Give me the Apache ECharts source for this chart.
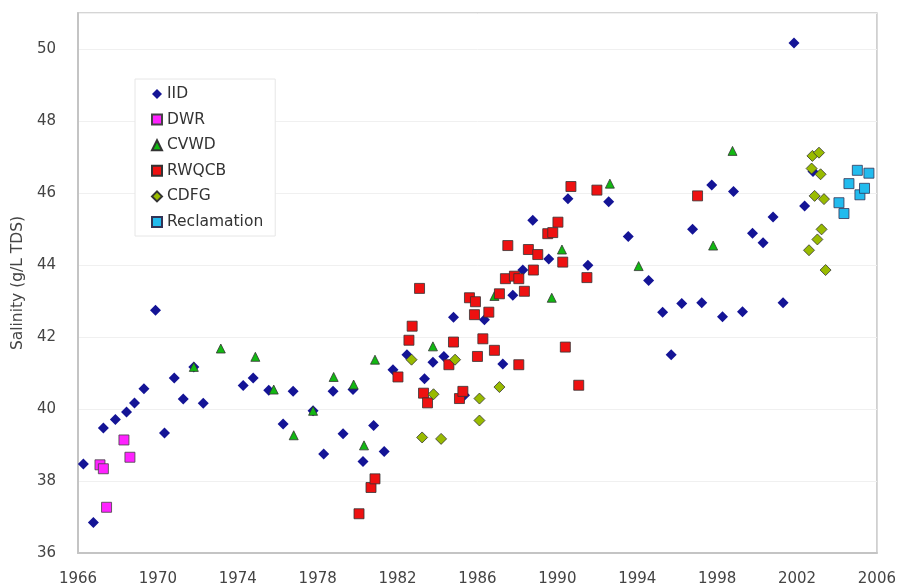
<!DOCTYPE html>
<html><head><meta charset="utf-8">
<script src="https://cdn.jsdelivr.net/npm/echarts@6/dist/echarts.min.js"></script>
<style>html,body{margin:0;padding:0;background:#fff}#c{width:899px;height:588px}</style>
</head><body><div id="c"></div>
<script>
const xTicks = [1966,1970,1974,1978,1982,1986,1990,1994,1998,2002,2006];
const yTicks = [36,38,40,42,44,46,48,50];
const IID = [[1966.27,38.47],[1966.77,36.85],[1967.27,39.47],[1967.87,39.71],[1968.43,39.92],[1968.83,40.17],[1969.3,40.56],[1969.88,42.74],[1970.33,39.33],[1970.82,40.86],[1971.27,40.28],[1971.8,41.17],[1972.27,40.16],[1974.27,40.65],[1974.77,40.86],[1975.55,40.52],[1976.27,39.58],[1976.77,40.49],[1977.77,39.95],[1978.3,38.75],[1978.77,40.49],[1979.27,39.31],[1979.77,40.54],[1980.27,38.54],[1980.8,39.54],[1981.33,38.82],[1981.77,41.09],[1982.47,41.51],[1983.35,40.84],[1983.77,41.3],[1984.32,41.46],[1984.8,42.55],[1985.35,40.38],[1986.35,42.48],[1987.27,41.25],[1987.77,43.16],[1988.27,43.86],[1988.77,45.24],[1989.57,44.17],[1990.53,45.84],[1991.53,43.99],[1992.57,45.76],[1993.55,44.79],[1994.57,43.57],[1995.27,42.69],[1995.7,41.51],[1996.23,42.93],[1996.77,44.99],[1997.23,42.95],[1997.73,46.22],[1998.27,42.56],[1998.82,46.04],[1999.27,42.7],[1999.77,44.88],[2000.3,44.62],[2000.8,45.33],[2001.3,42.95],[2001.85,50.17],[2002.38,45.64],[2002.8,46.6]];
const DWR = [[1967.1,38.45],[1967.27,38.34],[1967.43,37.27],[1968.3,39.14],[1968.6,38.66]];
const CVWD = [[1971.8,41.17],[1973.15,41.68],[1974.88,41.45],[1975.8,40.54],[1976.8,39.27],[1977.77,39.95],[1978.8,40.89],[1979.8,40.68],[1980.32,38.99],[1980.87,41.37],[1983.77,41.74],[1986.85,43.14],[1989.72,43.09],[1990.23,44.43],[1992.63,46.26],[1994.07,43.97],[1997.8,44.54],[1998.77,47.17]];
const RWQCB = [[1980.07,37.09],[1980.67,37.82],[1980.87,38.06],[1982.02,40.89],[1982.57,41.91],[1982.73,42.3],[1983.1,43.35],[1983.3,40.44],[1983.5,40.17],[1984.57,41.23],[1984.8,41.86],[1985.1,40.29],[1985.27,40.49],[1985.6,43.09],[1985.85,42.62],[1985.9,42.98],[1986.0,41.46],[1986.27,41.95],[1986.57,42.69],[1986.85,41.63],[1987.1,43.2],[1987.4,43.62],[1987.52,44.54],[1987.85,43.69],[1988.07,43.62],[1988.07,41.23],[1988.35,43.27],[1988.55,44.43],[1988.8,43.86],[1989.02,44.29],[1989.52,44.87],[1989.77,44.9],[1990.03,45.19],[1990.27,44.08],[1990.4,41.72],[1990.68,46.18],[1991.07,40.66],[1991.48,43.65],[1991.98,46.08],[1997.02,45.92]];
const CDFG = [[1982.7,41.37],[1983.23,39.21],[1983.8,40.41],[1984.18,39.17],[1984.88,41.37],[1986.1,40.29],[1986.1,39.68],[1987.1,40.61],[2002.6,44.41],[2002.73,46.68],[2002.77,47.03],[2002.88,45.92],[2003.02,44.71],[2003.1,47.12],[2003.18,46.52],[2003.23,44.99],[2003.35,45.83],[2003.43,43.86]];
const Reclamation = [[2004.1,45.73],[2004.35,45.43],[2004.6,46.26],[2005.02,46.63],[2005.15,45.95],[2005.38,46.13],[2005.6,46.55]];

const font = 'DejaVu Sans';
const chart = echarts.init(document.getElementById('c'), null, {renderer:'canvas'});
function s(name, data, symbol, size, color, border) {
  return {name, type:'scatter', data, symbol, symbolSize:size,
    itemStyle:{color, borderColor:border, borderWidth: border ? 0.8 : 0, opacity:1}};
}
chart.setOption({
  animation:false,
  grid:{left:78, right:21, top:13, bottom:35, show:true, borderColor:'#c8c8c8', borderWidth:1.5},
  xAxis:{type:'value', min:1966, max:2006, interval:4,
    axisLine:{show:true, lineStyle:{color:'#c4c4c4', width:2}}, axisTick:{show:false},
    splitLine:{show:false},
    axisLabel:{color:'#444', fontFamily:font, fontSize:15, margin:19,
      formatter: v => xTicks.includes(v) ? String(v) : ''}},
  yAxis:{type:'value', min:36, max:51, interval:2,
    name:'Salinity (g/L TDS)', nameLocation:'middle', nameGap:44,
    nameTextStyle:{color:'#444', fontFamily:font, fontSize:15.5},
    axisLine:{show:true, lineStyle:{color:'#c4c4c4', width:2}}, axisTick:{show:false},
    splitLine:{show:true, lineStyle:{color:'#f0f0f0'}},
    axisLabel:{color:'#444', fontFamily:font, fontSize:15, margin:22,
      formatter: v => yTicks.includes(v) ? String(v) : ''}},
  legend:{left:135, top:79, orient:'vertical', itemWidth:10, itemHeight:10, itemGap:9.6,
    padding:[7,12,6,16], backgroundColor:'#fff', borderColor:'#e6e6e6', borderWidth:1,
    textStyle:{color:'#333', fontFamily:font, fontSize:15.5}},
  series:[
    s('IID', IID, 'diamond', 11, '#141496', null),
    s('DWR', DWR, 'rect', 10, '#ff22ff', '#444'),
    s('CVWD', CVWD, 'triangle', 9, '#12b812', '#333'),
    s('RWQCB', RWQCB, 'rect', 10, '#ee1111', '#333'),
    s('CDFG', CDFG, 'diamond', 11, '#99bb00', '#333'),
    s('Reclamation', Reclamation, 'rect', 10, '#22bbee', '#335')
  ]
});
</script></body></html>
